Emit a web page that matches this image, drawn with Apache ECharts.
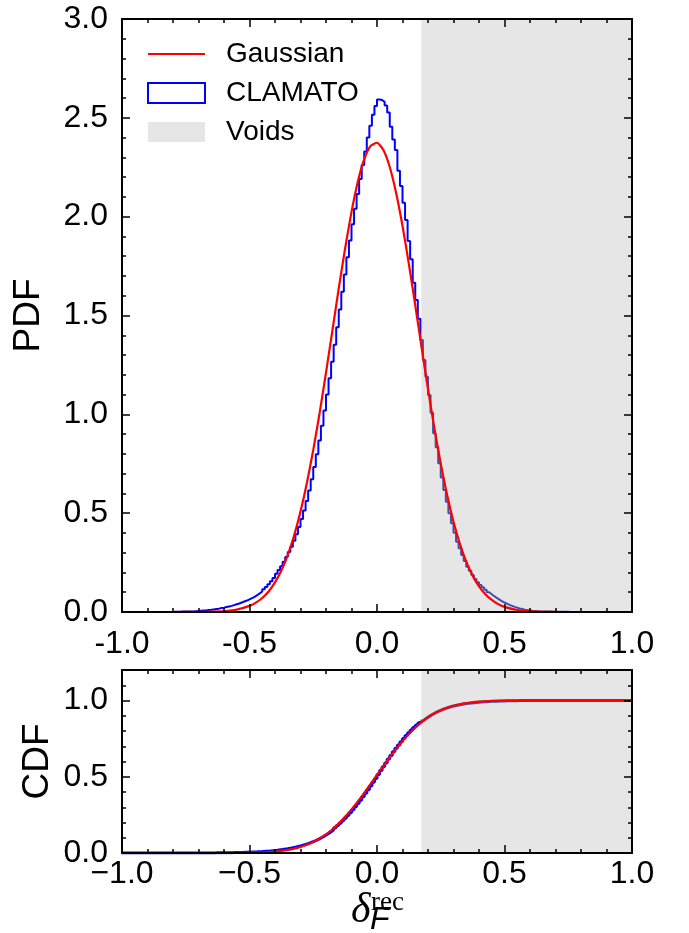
<!DOCTYPE html>
<html><head><meta charset="utf-8">
<script src="https://cdn.jsdelivr.net/npm/echarts@6/dist/echarts.min.js"></script>
<style>html,body{margin:0;padding:0;background:#fff}#c{width:689px;height:933px}</style>
</head><body><div id="c"></div>
<script>
// ---- data ----
const binStart = -1.0;
const binWidth = 0.01;
// CLAMATO histogram (PDF), bins of 0.01 starting at -1.00
const clamatoPdf = [
  0,0,0,0,0,0,0,0,0,0,                                             // -1.00 .. -0.91
  0,0,0,0,0,0,0,0,0,0,                                             // -0.90 .. -0.81
  0.001,0.001,0.001,0.002,0.002,0.002,0.003,0.003,0.004,0.005,     // -0.80 .. -0.71
  0.006,0.007,0.008,0.010,0.011,0.013,0.015,0.017,0.020,0.022,     // -0.70 .. -0.61
  0.025,0.028,0.031,0.035,0.039,0.043,0.048,0.053,0.058,0.064,     // -0.60 .. -0.51
  0.070,0.077,0.085,0.094,0.104,0.115,0.127,0.140,0.155,0.172,     // -0.50 .. -0.41
  0.194,0.212,0.232,0.254,0.278,0.303,0.330,0.360,0.393,0.430,     // -0.40 .. -0.31
  0.470,0.514,0.562,0.615,0.672,0.733,0.798,0.868,0.942,1.020,     // -0.30 .. -0.21
  1.100,1.182,1.266,1.352,1.440,1.530,1.620,1.708,1.795,1.880,     // -0.20 .. -0.11
  1.962,2.040,2.115,2.190,2.262,2.330,2.400,2.460,2.515,2.560,     // -0.10 .. -0.01
  2.593,2.590,2.581,2.563,2.527,2.455,2.391,2.337,2.232,2.155,     //  0.00 ..  0.09
  2.070,1.983,1.877,1.784,1.666,1.578,1.484,1.376,1.275,1.190,     //  0.10 ..  0.19
  1.098,1.008,0.904,0.833,0.752,0.681,0.617,0.558,0.499,0.449,     //  0.20 ..  0.29
  0.401,0.356,0.322,0.288,0.258,0.229,0.209,0.187,0.167,0.150,     //  0.30 ..  0.39
  0.137,0.125,0.112,0.100,0.090,0.080,0.071,0.063,0.055,0.048,     //  0.40 ..  0.49
  0.042,0.036,0.031,0.026,0.022,0.018,0.015,0.012,0.010,0.008,     //  0.50 ..  0.59
  0.006,0.005,0.004,0.003,0.003,0.002,0.002,0.002,0.001,0.001,     //  0.60 ..  0.69
  0.001,0.001,0.001,0.001,0.001,0,0,0,0,0,                         //  0.70 ..  0.79
  0,0,0,0,0,0,0,0,0,0,                                             //  0.80 ..  0.89
  0,0,0,0,0,0,0,0,0,0                                              //  0.90 ..  0.99
];
// Gaussian curve, read at these x positions
const gaussX = [-1,-0.9,-0.8,-0.7,-0.65,-0.6,-0.55,
  -0.5,-0.475,-0.45,-0.425,-0.4,-0.375,-0.35,-0.325,-0.3,-0.275,-0.25,-0.225,-0.2,-0.175,-0.15,-0.125,-0.1,-0.075,-0.05,-0.025,
  0,0.025,0.05,0.075,0.1,0.125,0.15,0.175,0.2,0.225,0.25,0.275,0.3,0.325,0.35,0.375,0.4,0.425,0.45,0.475,0.5,
  0.55,0.6,0.65,0.7,0.8,0.9,1];
const gaussPdf = [0,0,0.00003,0.0005,0.0015,0.0045,0.0123,
  0.031,0.0475,0.071,0.104,0.150,0.210,0.288,0.387,0.508,0.653,0.820,1.007,1.211,1.423,1.637,1.840,2.024,2.178,2.291,2.358,
  2.374,2.337,2.251,2.120,1.954,1.760,1.552,1.338,1.128,0.930,0.750,0.592,0.457,0.345,0.255,0.184,0.130,0.090,0.061,0.040,0.026,
  0.010,0.0036,0.0012,0.0003,0.00002,0,0];
const gaussCdf = [0,0,0,0.00002,0.00006,0.0002,0.0006,
  0.0016,0.0026,0.0040,0.0062,0.0094,0.0138,0.0200,0.0284,0.0396,0.0540,0.0724,0.0951,0.1228,0.1558,0.194,0.2376,0.286,0.3383,0.394,0.4526,
  0.512,0.5709,0.628,0.683,0.734,0.7805,0.822,0.858,0.889,0.9145,0.9355,0.9522,0.9652,0.9752,0.9827,0.9882,0.992,0.9948,0.9966,0.9979,0.9987,
  0.9995,0.9998,0.9999,1,1,1,1];
const voidStart = 0.174;
const voidEnd = 1.0;

// ---- derived tables ----
function stepPoints(vals, from, to) {
  const pts = [];
  for (let i = from; i < to; i++) {
    const a = +(binStart + i * binWidth).toFixed(4);
    const b = +(binStart + (i + 1) * binWidth).toFixed(4);
    pts.push([a, vals[i]], [b, vals[i]]);
  }
  return pts;
}
const total = clamatoPdf.reduce((s, v) => s + v, 0);
let acc = 0;
const clamatoCdf = clamatoPdf.map(v => (acc += v) / total);
const pairs = (xs, ys) => xs.map((x, i) => [x, ys[i]]);
// histogram outline split where the void shading begins (inside it the outline looks muted)
const splitBin = Math.floor((voidStart - binStart) / binWidth + 1e-9);
const nBins = clamatoPdf.length;
function outsidePart(vals) {
  const p = stepPoints(vals, 0, splitBin);
  p.push([+(binStart + splitBin * binWidth).toFixed(4), vals[splitBin]]);
  return p;
}
const insidePart = vals => stepPoints(vals, splitBin, nBins);

const FONT = 'Liberation Sans';
const BLACK = '#000';
const BLUE = '#0000ff';
const BLUE_IN_VOID = '#3f4fae';
const tickStyle = {color: BLACK, width: 1.5};

function xAx(grid, pos, labels, fmt, margin) {
  return {
    type: 'value', gridIndex: grid, position: pos, min: -1, max: 1, interval: 0.5, z: 10,
    axisLine: {show: true, onZero: false, lineStyle: {color: BLACK, width: 2}},
    axisTick: {show: true, inside: true, length: 8, lineStyle: tickStyle},
    minorTick: {show: true, splitNumber: 5, length: 4, lineStyle: tickStyle},
    splitLine: {show: false}, minorSplitLine: {show: false},
    axisLabel: {show: labels, formatter: fmt, margin: margin, color: BLACK, fontFamily: FONT, fontSize: 32,
      showMinLabel: true, showMaxLabel: true}
  };
}
function yAx(grid, pos, labels, max, interval, minor, tickLen, showLine, extra) {
  return Object.assign({
    type: 'value', gridIndex: grid, position: pos, min: 0, max: max, interval: interval, z: 10,
    axisLine: {show: showLine, onZero: false, lineStyle: {color: BLACK, width: 2}},
    axisTick: {show: true, inside: true, length: tickLen, lineStyle: tickStyle},
    minorTick: {show: minor, splitNumber: 5, length: 4, lineStyle: tickStyle},
    splitLine: {show: false}, minorSplitLine: {show: false},
    axisLabel: {show: labels, margin: 14, color: BLACK, fontFamily: FONT, fontSize: 32,
      formatter: v => (Math.abs(v * 2 - Math.round(v * 2)) < 1e-6 ? v.toFixed(1) : '')}
  }, extra || {});
}
const fmtHyphen = v => v.toFixed(1);
const fmtMinus = v => v.toFixed(1).replace('-', '\u2212');

function histSeries(name, xi, yi, part, color, width) {
  return {name: name, type: 'line', xAxisIndex: xi, yAxisIndex: yi, data: part, z: 2,
    symbol: 'none', lineStyle: {color: color, width: width}, itemStyle: {color: color}};
}

const chart = echarts.init(document.getElementById('c'), null, {renderer: 'canvas'});
chart.setOption({
  animation: false,
  backgroundColor: '#fff',
  grid: [
    {left: 122, right: 57, top: 19, height: 593, containLabel: false, outerBoundsMode: 'none'},
    {left: 122, right: 57, top: 670, height: 183, containLabel: false, outerBoundsMode: 'none'}
  ],
  xAxis: [
    xAx(0, 'bottom', true, fmtHyphen, 16),
    xAx(0, 'top', false, fmtHyphen, 8),
    xAx(1, 'bottom', true, fmtMinus, 5),
    xAx(1, 'top', false, fmtHyphen, 8)
  ],
  yAxis: [
    yAx(0, 'left', true, 3, 0.5, true, 8, true, {name: 'PDF', nameLocation: 'middle', nameGap: 75, nameMoveOverlap: false,
      nameTextStyle: {fontFamily: FONT, fontSize: 37, color: BLACK}}),
    yAx(0, 'right', false, 3, 0.5, true, 8, true),
    yAx(1, 'left', true, 1.2, 0.5, false, 8, true, {name: 'CDF', nameLocation: 'middle', nameGap: 66, nameMoveOverlap: false,
      nameTextStyle: {fontFamily: FONT, fontSize: 37, color: BLACK}}),
    yAx(1, 'right', false, 1.2, 0.5, false, 8, true),
    yAx(1, 'left', false, 1.2, 0.1, false, 4, false),
    yAx(1, 'right', false, 1.2, 0.1, false, 4, false)
  ],
  legend: {
    orient: 'vertical', left: 147, top: 40, padding: 0, itemWidth: 57, itemHeight: 20, itemGap: 11,
    selectedMode: false,
    textStyle: {fontFamily: FONT, fontSize: 28, color: BLACK, padding: [0, 0, 0, 16]},
    data: [
      {name: 'Gaussian', icon: 'path://M0,0H57V2H0Z', itemStyle: {color: '#ff0000', borderWidth: 0}},
      {name: 'CLAMATO', icon: 'rect', itemStyle: {color: 'rgba(0,0,0,0)', borderColor: BLUE, borderWidth: 2}},
      {name: 'Voids', icon: 'rect', itemStyle: {color: '#e6e6e6', borderWidth: 0}}
    ]
  },
  series: [
    {name: 'Voids', type: 'line', xAxisIndex: 0, yAxisIndex: 0, data: [], z: 1, itemStyle: {color: '#e6e6e6'},
      markArea: {silent: true, itemStyle: {color: '#e6e6e6'}, data: [[{xAxis: voidStart}, {xAxis: voidEnd}]]}},
    histSeries('CLAMATO', 0, 0, outsidePart(clamatoPdf), BLUE, 2),
    histSeries('CLAMATO', 0, 0, insidePart(clamatoPdf), BLUE_IN_VOID, 2),
    {name: 'Gaussian', type: 'line', xAxisIndex: 0, yAxisIndex: 0, data: pairs(gaussX, gaussPdf), z: 3,
      symbol: 'none', smooth: 0.2, lineStyle: {color: '#ff0000', width: 2.2}, itemStyle: {color: '#ff0000'}},
    {name: 'Voids', type: 'line', xAxisIndex: 2, yAxisIndex: 2, data: [], z: 1, itemStyle: {color: '#e6e6e6'},
      markArea: {silent: true, itemStyle: {color: '#e6e6e6'}, data: [[{xAxis: voidStart}, {xAxis: voidEnd}]]}},
    histSeries('CLAMATO', 2, 2, outsidePart(clamatoCdf), BLUE, 3),
    histSeries('CLAMATO', 2, 2, insidePart(clamatoCdf), BLUE_IN_VOID, 3),
    {name: 'Gaussian', type: 'line', xAxisIndex: 2, yAxisIndex: 2, data: pairs(gaussX, gaussCdf), z: 3,
      symbol: 'none', smooth: 0.2, lineStyle: {color: '#ff0000', width: 2.2}, itemStyle: {color: '#ff0000'}}
  ],
  graphic: [
    {type: 'text', left: 351, top: 890, style: {text: '\u03b4', font: 'italic 42px "Liberation Serif"', fill: BLACK}},
    {type: 'text', left: 371, top: 889, style: {text: 'rec', font: '27px "Liberation Serif"', fill: BLACK}},
    {type: 'text', left: 370, top: 904, style: {text: 'F', font: 'italic 32px "Liberation Sans"', fill: BLACK}}
  ]
});
</script>
</body></html>
